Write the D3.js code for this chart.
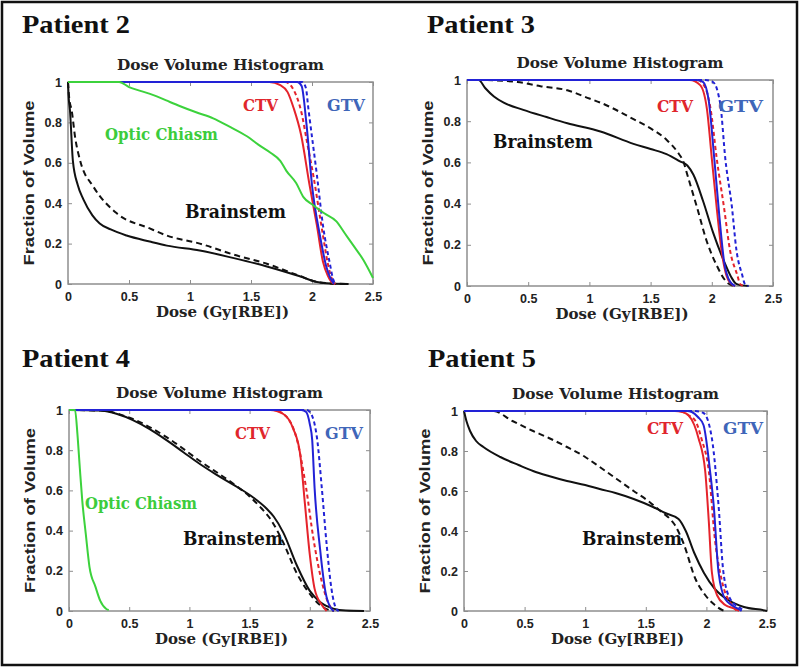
<!DOCTYPE html>
<html><head><meta charset="utf-8">
<script src="https://cdn.jsdelivr.net/npm/d3@7"></script>
<style>html,body{margin:0;padding:0;background:#fff;} svg{display:block;}</style>
</head><body>
<svg id="chart" width="800" height="668"></svg>
<script>
// ---------------- DATA ----------------
const patientNames = ["Patient 2", "Patient 3", "Patient 4", "Patient 5"];
const xTicks = [0, 0.5, 1, 1.5, 2, 2.5];
const yTicks = [0, 0.2, 0.4, 0.6, 0.8, 1];
const xTickLabels = ["0", "0.5", "1", "1.5", "2", "2.5"];
const yTickLabels = ["0", "0.2", "0.4", "0.6", "0.8", "1"];
const chartTitle = "Dose Volume Histogram";
const xLabel = "Dose (Gy[RBE])";
const yLabel = "Fraction of Volume";

// [dose, fraction of volume]
// Patient 2
const p2CtvSolid = [[0,1],[1.65,1],[1.74,0.985],[1.80,0.95],[1.85,0.87],[1.91,0.74],[1.98,0.49],[2.04,0.29],[2.09,0.11],[2.13,0.04],[2.16,0.01],[2.19,0]];
const p2CtvDashed = [[0,1],[1.78,1],[1.85,0.96],[1.915,0.845],[1.96,0.70],[2.01,0.54],[2.09,0.24],[2.13,0.10],[2.16,0.03],[2.19,0]];
const p2GtvSolid = [[0,1],[1.88,1],[1.915,0.98],[1.955,0.79],[2.0,0.49],[2.065,0.24],[2.12,0.08],[2.15,0.03],[2.18,0]];
const p2GtvDashed = [[0,1],[1.92,1],[1.95,0.97],[1.97,0.87],[2.04,0.54],[2.09,0.29],[2.15,0.09],[2.17,0.03],[2.19,0]];
const p2StemSolid = [[0,1],[0.005,0.93],[0.016,0.86],[0.04,0.61],[0.08,0.49],[0.125,0.42],[0.2,0.34],[0.26,0.30],[0.35,0.27],[0.48,0.24],[0.67,0.21],[0.81,0.19],[1.08,0.166],[1.36,0.128],[1.63,0.087],[1.90,0.038],[2.04,0.01],[2.15,0.002],[2.3,0]];
const p2StemDashed = [[0,1],[0.01,0.92],[0.03,0.86],[0.06,0.72],[0.10,0.61],[0.21,0.48],[0.40,0.35],[0.67,0.275],[0.81,0.24],[1.08,0.20],[1.36,0.145],[1.63,0.10],[1.90,0.04],[2.04,0.01],[2.15,0.003],[2.3,0]];
const p2Chiasm = [[0,1],[0.42,1],[0.5,0.975],[0.6,0.955],[0.7,0.935],[0.8,0.91],[0.92,0.88],[1.05,0.85],[1.19,0.82],[1.32,0.78],[1.47,0.73],[1.56,0.69],[1.66,0.65],[1.74,0.61],[1.79,0.56],[1.87,0.50],[1.93,0.43],[2.01,0.39],[2.1,0.35],[2.2,0.31],[2.27,0.25],[2.34,0.19],[2.42,0.12],[2.5,0.03]];

// Patient 3
const p3CtvSolid = [[0,1],[1.82,1],[1.905,0.975],[1.96,0.86],[2.0,0.62],[2.04,0.38],[2.08,0.17],[2.12,0.05],[2.16,0.01],[2.19,0]];
const p3CtvDashed = [[0,1],[1.88,1],[1.94,0.97],[1.99,0.86],[2.04,0.62],[2.10,0.38],[2.15,0.17],[2.21,0.05],[2.23,0.01],[2.26,0]];
const p3GtvSolid = [[0,1],[1.88,1],[1.93,0.99],[1.975,0.9],[2.02,0.62],[2.06,0.35],[2.10,0.12],[2.15,0.02],[2.19,0]];
const p3GtvDashed = [[0,1],[1.95,1],[2.01,0.99],[2.07,0.88],[2.11,0.62],[2.165,0.38],[2.2,0.18],[2.25,0.05],[2.27,0.01],[2.30,0]];
const p3StemSolid = [[0,1],[0.095,1],[0.15,0.96],[0.22,0.92],[0.3,0.89],[0.46,0.855],[0.65,0.82],[0.82,0.79],[1.09,0.75],[1.36,0.69],[1.5,0.665],[1.63,0.64],[1.74,0.605],[1.80,0.585],[1.85,0.54],[1.93,0.41],[2.01,0.26],[2.10,0.12],[2.165,0.037],[2.2,0.01],[2.25,0.003],[2.3,0]];
const p3StemDashed = [[0,1],[0.1,1],[0.41,0.99],[0.6,0.97],[0.82,0.95],[1.0,0.91],[1.09,0.89],[1.36,0.81],[1.5,0.765],[1.63,0.71],[1.72,0.65],[1.77,0.60],[1.80,0.54],[1.88,0.38],[1.96,0.215],[2.04,0.10],[2.12,0.02],[2.18,0]];

// Patient 4
const p4CtvSolid = [[0,1],[1.67,1],[1.78,0.98],[1.86,0.91],[1.92,0.78],[1.96,0.53],[2.0,0.28],[2.04,0.11],[2.10,0.03],[2.14,0]];
const p4CtvDashed = [[0,1],[1.7,1],[1.8,0.97],[1.89,0.86],[1.97,0.61],[2.03,0.36],[2.10,0.145],[2.15,0.045],[2.2,0]];
const p4GtvSolid = [[0,1],[1.93,1],[1.97,0.99],[2.0,0.93],[2.02,0.85],[2.04,0.61],[2.085,0.31],[2.13,0.095],[2.18,0.01],[2.2,0]];
const p4GtvDashed = [[0,1],[1.97,1],[2.0,0.99],[2.06,0.86],[2.10,0.61],[2.14,0.33],[2.18,0.11],[2.22,0.01],[2.24,0]];
const p4StemSolid = [[0,1],[0.26,0.997],[0.4,0.98],[0.53,0.95],[0.67,0.905],[0.81,0.85],[0.95,0.79],[1.09,0.73],[1.22,0.68],[1.36,0.63],[1.53,0.565],[1.64,0.51],[1.70,0.47],[1.78,0.39],[1.89,0.23],[2.0,0.10],[2.085,0.045],[2.195,0.012],[2.3,0.002],[2.45,0]];
const p4StemDashed = [[0,1],[0.26,0.997],[0.53,0.955],[0.81,0.865],[1.09,0.745],[1.36,0.635],[1.5,0.57],[1.6,0.51],[1.67,0.46],[1.78,0.34],[1.89,0.19],[1.97,0.11],[2.085,0.03],[2.16,0.005],[2.2,0]];
const p4Chiasm = [[0,1],[0.05,1],[0.07,0.88],[0.09,0.71],[0.11,0.55],[0.14,0.38],[0.17,0.22],[0.22,0.12],[0.26,0.05],[0.31,0.01],[0.33,0.005]];

// Patient 5
const p5CtvSolid = [[0,1],[1.74,1],[1.80,0.995],[1.85,0.98],[1.90,0.93],[1.935,0.864],[1.99,0.70],[2.02,0.446],[2.045,0.195],[2.087,0.08],[2.155,0.03],[2.24,0.01],[2.27,0]];
const p5CtvDashed = [[0,1],[1.78,1],[1.85,0.98],[1.91,0.95],[1.96,0.86],[2.02,0.70],[2.07,0.36],[2.13,0.145],[2.21,0.03],[2.25,0]];
const p5GtvSolid = [[0,1],[1.84,1],[1.88,0.995],[1.93,0.97],[1.976,0.93],[2.03,0.70],[2.06,0.53],[2.10,0.195],[2.155,0.06],[2.265,0.01],[2.29,0]];
const p5GtvDashed = [[0,1],[1.9,1],[1.976,0.99],[2.045,0.864],[2.10,0.53],[2.14,0.195],[2.197,0.06],[2.29,0.01],[2.31,0]];
const p5StemSolid = [[0,1],[0.02,0.95],[0.05,0.90],[0.1,0.85],[0.16,0.82],[0.3,0.77],[0.45,0.73],[0.57,0.70],[0.7,0.675],[0.85,0.65],[1.0,0.63],[1.12,0.61],[1.25,0.59],[1.40,0.56],[1.56,0.52],[1.66,0.49],[1.77,0.46],[1.83,0.40],[1.90,0.29],[1.98,0.19],[2.07,0.11],[2.18,0.055],[2.31,0.02],[2.48,0.003],[2.5,0]];
const p5StemDashed = [[0,1],[0.24,1],[0.4,0.95],[0.57,0.90],[0.7,0.865],[0.85,0.82],[1.0,0.77],[1.12,0.72],[1.26,0.66],[1.40,0.60],[1.52,0.55],[1.62,0.50],[1.70,0.46],[1.74,0.43],[1.81,0.34],[1.91,0.16],[1.99,0.08],[2.07,0.03],[2.13,0.005],[2.16,0]];

// ---------------- STYLE / LAYOUT ----------------
const RED = "#e5232b", BLUE = "#2222d6", GREEN = "#3cd23c", BLACK = "#111111";
const CTV_TEXT = "#e0262c", GTV_TEXT = "#3f66b9", CHIASM_TEXT = "#3ccc3c";
const AXIS_GRAY = "#8e8e8e", TEXT_DARK = "#222222";
const SERIF = "'DejaVu Serif', serif";
const TIMES = "'Liberation Serif', 'Times New Roman', serif";
const SANS = "'Liberation Sans', Arial, sans-serif";

const panels = [
  { left: 68, top: 82, width: 305, height: 202, titleX: 22, titleY: 33,
    series: [
      {d: p2StemSolid, c: BLACK}, {d: p2StemDashed, c: BLACK, dash: "6,4"},
      {d: p2CtvSolid, c: RED}, {d: p2CtvDashed, c: RED, dash: "4,3"},
      {d: p2GtvSolid, c: BLUE}, {d: p2GtvDashed, c: BLUE, dash: "4,3"},
      {d: p2Chiasm, c: GREEN}],
    labels: [
      {t: "CTV", x: 1.434, y: 0.856, c: CTV_TEXT, w: 35, fs: 17},
      {t: "GTV", x: 2.123, y: 0.856, c: GTV_TEXT, w: 38, fs: 17},
      {t: "Optic Chiasm", x: 0.303, y: 0.713, c: CHIASM_TEXT, w: 113, fs: 16},
      {t: "Brainstem", x: 0.959, y: 0.327, c: BLACK, w: 101, fs: 18}] },
  { left: 467, top: 80, width: 306, height: 206, titleX: 427, titleY: 33,
    series: [
      {d: p3StemSolid, c: BLACK}, {d: p3StemDashed, c: BLACK, dash: "6,4"},
      {d: p3CtvSolid, c: RED}, {d: p3CtvDashed, c: RED, dash: "4,3"},
      {d: p3GtvSolid, c: BLUE}, {d: p3GtvDashed, c: BLUE, dash: "4,3"}],
    labels: [
      {t: "CTV", x: 1.552, y: 0.845, c: CTV_TEXT, w: 36, fs: 17},
      {t: "GTV", x: 2.05, y: 0.845, c: GTV_TEXT, w: 45, fs: 17},
      {t: "Brainstem", x: 0.212, y: 0.67, c: BLACK, w: 100, fs: 18}] },
  { left: 69, top: 410, width: 301, height: 201, titleX: 22, titleY: 367,
    series: [
      {d: p4StemSolid, c: BLACK}, {d: p4StemDashed, c: BLACK, dash: "6,4"},
      {d: p4CtvSolid, c: RED}, {d: p4CtvDashed, c: RED, dash: "4,3"},
      {d: p4GtvSolid, c: BLUE}, {d: p4GtvDashed, c: BLUE, dash: "4,3"},
      {d: p4Chiasm, c: GREEN}],
    labels: [
      {t: "CTV", x: 1.379, y: 0.856, c: CTV_TEXT, w: 35, fs: 17},
      {t: "GTV", x: 2.126, y: 0.856, c: GTV_TEXT, w: 38, fs: 17},
      {t: "Optic Chiasm", x: 0.133, y: 0.507, c: CHIASM_TEXT, w: 112, fs: 16},
      {t: "Brainstem", x: 0.947, y: 0.328, c: BLACK, w: 100, fs: 18}] },
  { left: 464, top: 411, width: 303, height: 200, titleX: 428, titleY: 367,
    series: [
      {d: p5StemSolid, c: BLACK}, {d: p5StemDashed, c: BLACK, dash: "6,4"},
      {d: p5CtvSolid, c: RED}, {d: p5CtvDashed, c: RED, dash: "4,3"},
      {d: p5GtvSolid, c: BLUE}, {d: p5GtvDashed, c: BLUE, dash: "4,3"}],
    labels: [
      {t: "CTV", x: 1.51, y: 0.885, c: CTV_TEXT, w: 36, fs: 17},
      {t: "GTV", x: 2.137, y: 0.885, c: GTV_TEXT, w: 40, fs: 17},
      {t: "Brainstem", x: 0.974, y: 0.33, c: BLACK, w: 100, fs: 18}] }
];

// ---------------- DRAW ----------------
const svg = d3.select("#chart");
svg.append("rect").attr("width", 800).attr("height", 668).attr("fill", "#fff");
svg.append("rect").attr("x", 2).attr("y", 2).attr("width", 795).attr("height", 663)
  .attr("fill", "none").attr("stroke", "#111").attr("stroke-width", 2.5);

function fit(sel, w) { return sel.attr("textLength", w).attr("lengthAdjust", "spacingAndGlyphs"); }

panels.forEach((p, i) => {
  const g = svg.append("g");
  const x = d3.scaleLinear().domain([0, 2.5]).range([p.left, p.left + p.width]);
  const y = d3.scaleLinear().domain([0, 1]).range([p.top + p.height, p.top]);
  const bottom = p.top + p.height, cx = p.left + p.width / 2;

  // patient title
  fit(g.append("text").attr("x", p.titleX).attr("y", p.titleY)
    .attr("font-family", TIMES).attr("font-weight", "bold").attr("font-size", 25)
    .attr("fill", "#111").text(patientNames[i]), 108);

  // chart title
  fit(g.append("text").attr("x", cx).attr("y", p.top - 12).attr("text-anchor", "middle")
    .attr("font-family", SERIF).attr("font-weight", "bold").attr("font-size", 14.5)
    .attr("fill", TEXT_DARK).text(chartTitle), 207);

  // plot box
  g.append("rect").attr("x", p.left).attr("y", p.top).attr("width", p.width).attr("height", p.height)
    .attr("fill", "#fff").attr("stroke", AXIS_GRAY).attr("stroke-width", 1.5);

  // axes
  const fmtX = (d) => xTickLabels[xTicks.indexOf(d)];
  const fmtY = (d) => yTickLabels[yTicks.indexOf(d)];
  const styleAxis = (a) => {
    a.select(".domain").remove();
    a.selectAll(".tick line").attr("stroke", AXIS_GRAY).attr("stroke-width", 1);
    a.selectAll(".tick text").attr("font-family", SANS).attr("font-weight", "bold")
      .attr("font-size", 12.5).attr("fill", TEXT_DARK);
  };
  g.append("g").attr("transform", `translate(0,${bottom})`)
    .call(d3.axisBottom(x).tickValues(xTicks).tickFormat(fmtX).tickSizeInner(-4).tickSizeOuter(0).tickPadding(8))
    .call(styleAxis);
  g.append("g").attr("transform", `translate(0,${p.top})`)
    .call(d3.axisTop(x).tickValues(xTicks).tickFormat("").tickSizeInner(-4).tickSizeOuter(0))
    .call(styleAxis);
  g.append("g").attr("transform", `translate(${p.left},0)`)
    .call(d3.axisLeft(y).tickValues(yTicks).tickFormat(fmtY).tickSizeInner(-4).tickSizeOuter(0).tickPadding(6))
    .call(styleAxis);
  g.append("g").attr("transform", `translate(${p.left + p.width},0)`)
    .call(d3.axisRight(y).tickValues(yTicks).tickFormat("").tickSizeInner(-4).tickSizeOuter(0))
    .call(styleAxis);

  // axis labels
  fit(g.append("text").attr("x", cx + 2).attr("y", bottom + 33).attr("text-anchor", "middle")
    .attr("font-family", SERIF).attr("font-weight", "bold").attr("font-size", 15)
    .attr("fill", TEXT_DARK).text(xLabel), 133);
  fit(g.append("text").attr("transform", `translate(${p.left - 34},${p.top + p.height / 2}) rotate(-90)`)
    .attr("text-anchor", "middle")
    .attr("font-family", SANS).attr("font-weight", "bold").attr("font-size", 15)
    .attr("fill", TEXT_DARK).text(yLabel), 165);

  // curves
  const line = d3.line().x(d => x(d[0])).y(d => y(d[1])).curve(d3.curveMonotoneX);
  p.series.forEach(s => {
    g.append("path").datum(s.d).attr("d", line).attr("fill", "none")
      .attr("stroke", s.c).attr("stroke-width", 2)
      .attr("stroke-dasharray", s.dash || null)
      .attr("stroke-linejoin", "round");
  });

  // annotations
  p.labels.forEach(l => {
    fit(g.append("text").attr("x", x(l.x)).attr("y", y(l.y))
      .attr("font-family", SERIF).attr("font-weight", "bold").attr("font-size", l.fs)
      .attr("fill", l.c).text(l.t), l.w);
  });
});
</script>
</body></html>
